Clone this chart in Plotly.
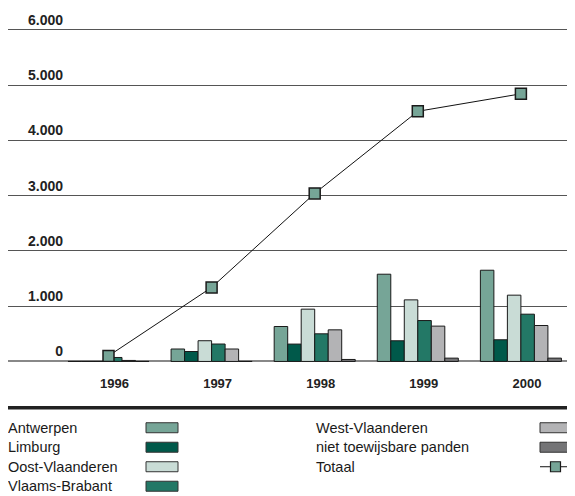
import plotly.graph_objects as go

# ---- data ----
years = [1996, 1997, 1998, 1999, 2000]
year_labels = ["1996", "1997", "1998", "1999", "2000"]
antwerpen = [0, 225, 632, 1578, 1650]
limburg = [0, 180, 314, 374, 392]
oost_vlaanderen = [0, 375, 946, 1114, 1199]
vlaams_brabant = [72, 315, 500, 740, 855]
west_vlaanderen = [18, 225, 572, 639, 650]
niet_toewijsbaar = [0, 0, 36, 60, 60]
totaal = [100, 1339, 3040, 4525, 4841]
y_ticks = [0, 1000, 2000, 3000, 4000, 5000, 6000]
y_tick_labels = ["0", "1.000", "2.000", "3.000", "4.000", "5.000", "6.000"]

series = [
    ("Antwerpen", antwerpen, "#76a597"),
    ("Limburg", limburg, "#00594a"),
    ("Oost-Vlaanderen", oost_vlaanderen, "#c9dcd6"),
    ("Vlaams-Brabant", vlaams_brabant, "#237866"),
    ("West-Vlaanderen", west_vlaanderen, "#b3b3b5"),
    ("niet toewijsbare panden", niet_toewijsbaar, "#747476"),
]

# page has an 8px body margin; work in page pixels and convert
OFF = 8
W, H = 575 - OFF, 496 - OFF
K = 0.05528          # px per unit on y
Y0 = 361.7           # page y of value 0
R0, R1 = -10, 6050
MT = (Y0 - K * R1) - OFF
MB = H - ((Y0 - K * R0) - OFF)
ML, MR = 0, 0
PW, PH = W - ML - MR, H - MT - MB

def xp(px):
    return (px - OFF - ML) / PW

def yp(py):
    return (H - MB - (py - OFF)) / PH

REG = "Liberation Sans, Arial, Helvetica, sans-serif"

fig = go.Figure()
for name, vals, col in series:
    fig.add_trace(go.Bar(x=years, y=vals, name=name, marker_color=col,
                         marker_line_color="#1a1a1a", marker_line_width=1,
                         showlegend=False))
fig.add_trace(go.Scatter(x=years, y=totaal, name="Totaal", mode="lines+markers",
                         line=dict(color="#111111", width=1),
                         marker=dict(symbol="square", size=11, color="#76a597",
                                     line=dict(color="#1a1a1a", width=1.5)),
                         showlegend=False))

# manual legend (two columns, swatch right of text)
legend_items = [(n, c, "bar") for n, _, c in series] + [("Totaal", "#76a597", "line")]
col_text_x = [6, 314]
col_sw_x = [(146, 178), (540, 575)]
row0, row_step = 428, 19.5
annotations = []
shapes = []
for i, (name, col, kind) in enumerate(legend_items):
    c = 0 if i < 4 else 1
    r = i if i < 4 else i - 4
    cy = row0 + r * row_step
    annotations.append(dict(text=name, x=xp(col_text_x[c]), y=yp(cy), xref="paper", yref="paper",
                            xanchor="left", yanchor="middle", showarrow=False,
                            font=dict(family=REG, size=14.5, color="#1a1a1a")))
    x0, x1 = col_sw_x[c]
    if kind == "bar":
        shapes.append(dict(type="rect", xref="paper", yref="paper",
                           x0=xp(x0), x1=xp(x1), y0=yp(cy - 5), y1=yp(cy + 5),
                           fillcolor=col, line=dict(color="#333333", width=1)))
    else:
        mx = (x0 + x1) / 2 - 2
        shapes.append(dict(type="line", xref="paper", yref="paper",
                           x0=xp(x0), x1=xp(x1), y0=yp(cy), y1=yp(cy),
                           line=dict(color="#111111", width=1)))
        shapes.append(dict(type="rect", xref="paper", yref="paper",
                           x0=xp(mx - 5), x1=xp(mx + 5), y0=yp(cy - 5), y1=yp(cy + 5),
                           fillcolor=col, line=dict(color="#1a1a1a", width=1.2)))

# thick separator line above legend
shapes.append(dict(type="line", xref="paper", yref="paper", x0=xp(8), x1=xp(575),
                   y0=yp(408), y1=yp(408), line=dict(color="#222222", width=3.5)))

unit = 103.1
x_center0 = 108.5 - OFF
fig.update_layout(
    width=W, height=H,
    margin=dict(l=ML, r=MR, t=MT, b=MB, pad=0),
    paper_bgcolor="white", plot_bgcolor="white",
    barmode="group", bargap=0.214, bargroupgap=0,
    xaxis=dict(range=[years[0] - x_center0 / unit, years[0] + (W - x_center0) / unit],
               tickvals=years, ticktext=year_labels, showgrid=False, zeroline=False,
               showline=False, ticks="", ticklabelstandoff=12, ticklabelshift=6,
               tickfont=dict(family=REG, size=13, color="#222222", weight="bold")),
    yaxis=dict(range=[R0, R1], tickvals=y_ticks, ticktext=y_tick_labels,
               showgrid=True, gridcolor="#555555", gridwidth=1,
               zeroline=True, zerolinecolor="#888888", zerolinewidth=1.5,
               showline=False, ticks="", ticklabelstandoff=-56, ticklabelshift=-10,
               tickfont=dict(family=REG, size=14, color="#222222", weight="bold")),
    annotations=annotations, shapes=shapes,
)
fig.write_html("out.html")
